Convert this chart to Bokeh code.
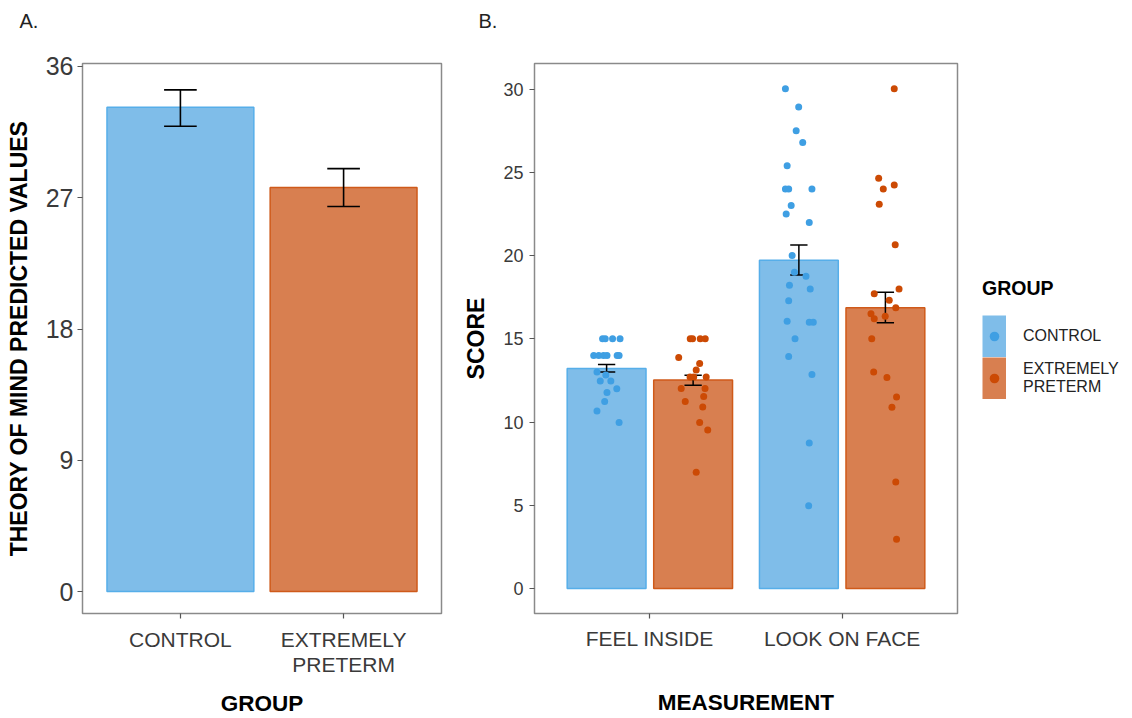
from bokeh.plotting import figure
from bokeh.layouts import row, column
from bokeh.models import FixedTicker, Legend, LegendItem, Range1d, ColumnDataSource
from bokeh.core.properties import value
from bokeh.embed import file_html
from bokeh.resources import INLINE

FONT = "Liberation Sans"

# ---------------- data: panel A ----------------
groups = ["CONTROL", "EXTREMELY PRETERM"]
group_tick_labels = ["CONTROL", "EXTREMELY\nPRETERM"]
tom_mean = [33.2, 27.7]
tom_lower = [31.9, 26.4]
tom_upper = [34.4, 29.0]
tom_ticks = [0, 9, 18, 27, 36]

# ---------------- data: panel B ----------------
measurements = ["FEEL INSIDE", "LOOK ON FACE"]
score_mean_control = [13.22, 19.71]
score_mean_preterm = [12.53, 16.86]
score_lower_control = [13.0, 18.83]
score_upper_control = [13.46, 20.63]
score_lower_preterm = [12.21, 15.96]
score_upper_preterm = [12.81, 17.79]
score_ticks = [0, 5, 10, 15, 20, 25, 30]

# individual scores (with the horizontal jitter)
feel_control = [15.0, 15.0, 15.0, 15.0, 14.0, 14.0, 14.0, 14.0, 14.0, 14.0,
                 13.0, 12.83, 12.47, 12.47, 12.0, 11.77, 11.23, 10.67, 9.97]
feel_control_jitter = [-0.021, -0.007, 0.031, 0.07, -0.067, -0.041, -0.016, 0.002, 0.055, 0.065,
                       -0.05, -0.004, -0.033, 0.022, 0.053, 0.002, -0.01, -0.05, 0.065]
feel_preterm = [15.0, 15.0, 15.0, 15.0, 13.87, 13.51, 13.13, 12.71, 12.71, 12.71,
                12.01, 12.01, 11.53, 11.23, 10.91, 9.97, 9.52, 6.98]
feel_preterm_jitter = [-0.015, -0.003, 0.037, 0.063, -0.075, 0.034, 0.016, -0.016, 0.003, 0.068,
                       -0.062, 0.062, 0.055, -0.041, 0.05, 0.034, 0.076, 0.016]
face_control = [30.02, 28.92, 27.49, 26.79, 25.39, 24.0, 24.0, 24.0, 23.0, 22.5,
                21.98, 20.0, 18.99, 18.75, 18.21, 17.99, 17.29, 16.06, 16.0, 16.0,
                15.0, 13.93, 12.85, 8.74, 4.97]
face_control_jitter = [-0.07, -0.001, -0.014, 0.02, -0.061, -0.07, -0.053, 0.068, -0.04, -0.066,
                       0.054, -0.035, -0.023, 0.037, -0.049, 0.059, -0.053, -0.061, 0.054, 0.075,
                       -0.02, -0.053, 0.068, 0.054, 0.051]
face_preterm = [30.02, 24.64, 24.24, 24.0, 23.08, 20.65, 17.99, 17.71, 17.31, 16.86,
                16.5, 16.2, 16.36, 15.0, 13.0, 12.67, 11.51, 10.89, 6.4, 2.97]
face_preterm_jitter = [0.046, -0.035, 0.046, -0.011, -0.032, 0.051, 0.071, -0.058, 0.02, 0.054,
                       -0.075, -0.058, -0.001, -0.071, -0.061, 0.008, 0.058, 0.034, 0.054, 0.058]

panel_tags = ["A.", "B."]

# ---------------- styles ----------------
BLUE_FILL, BLUE_LINE, BLUE_PT = "#7fbde9", "#56aee9", "#3f9fe3"
ORANGE_FILL, ORANGE_LINE, ORANGE_PT = "#d87f50", "#cf5a1a", "#cc4a04"
TICK_TXT = "#3a3a3a"
FRAME = "#8a8a8a"
HDR = 40
H = 718 - HDR
TOP, BOTTOM = 63 - HDR, 103


def style(p, xlabel, ylabel, xfs, yfs):
    p.xgrid.visible = False
    p.ygrid.visible = False
    p.outline_line_color = FRAME
    p.outline_line_width = 1.5
    p.background_fill_color = "white"
    p.border_fill_color = "white"
    for ax in (p.xaxis[0], p.yaxis[0]):
        ax.axis_line_color = None
        ax.major_tick_line_color = "#555555"
        ax.major_tick_line_width = 1.2
        ax.major_tick_in = 0
        ax.major_tick_out = 5
        ax.minor_tick_line_color = None
        ax.major_label_text_font = FONT
        ax.major_label_text_color = TICK_TXT
        ax.axis_label_text_font = FONT
        ax.axis_label_text_font_style = "bold"
        ax.axis_label_text_font_size = "22.5px"
        ax.axis_label_text_line_height = 0.8
        ax.axis_label_text_color = "black"
    p.yaxis.axis_label_text_font_size = "23px"
    p.xaxis.axis_label = xlabel
    p.yaxis.axis_label = ylabel
    p.xaxis.major_label_text_font_size = xfs
    p.yaxis.major_label_text_font_size = yfs


# ---------------- header strip with the panel tags ----------------
hdr = figure(width=1132, height=HDR, x_range=Range1d(0, 1132), y_range=Range1d(0, HDR),
             x_axis_type=None, y_axis_type=None, output_backend="svg", toolbar_location=None,
             min_border=0)
hdr.outline_line_color = None
hdr.grid.visible = False
hdr.text(x=[19, 478], y=[HDR - 20.5, HDR - 20.5], text=panel_tags, text_font=value(FONT),
         text_font_size="20px", text_align="left", text_baseline="middle",
         text_color="#222222")

# ---------------- panel A ----------------
pa = figure(width=460, height=H, x_range=Range1d(0.4, 2.6), y_range=Range1d(-1.503, 36.205),
            output_backend="svg", toolbar_location=None,
            min_border_left=82, min_border_right=19, min_border_top=TOP, min_border_bottom=BOTTOM)
xa = [i + 1 for i in range(len(groups))]
src_a = ColumnDataSource(dict(x=xa, top=tom_mean, lo=tom_lower, hi=tom_upper,
                              fill=[BLUE_FILL, ORANGE_FILL], line=[BLUE_LINE, ORANGE_LINE]))
pa.vbar(x="x", top="top", bottom=0, width=0.9, fill_color="fill", line_color="line",
        line_width=1.5, source=src_a)
pa.segment(x0="x", y0="lo", x1="x", y1="hi", line_color="black", line_width=1.6, source=src_a)
pa.segment(x0=[x - 0.1 for x in xa], y0=tom_upper, x1=[x + 0.1 for x in xa], y1=tom_upper,
           line_color="black", line_width=1.6)
pa.segment(x0=[x - 0.1 for x in xa], y0=tom_lower, x1=[x + 0.1 for x in xa], y1=tom_lower,
           line_color="black", line_width=1.6)
style(pa, "GROUP", "THEORY OF MIND PREDICTED VALUES", "21px", "25px")
pa.xaxis.ticker = FixedTicker(ticks=xa)
pa.xaxis.major_label_overrides = {x: lab for x, lab in zip(xa, group_tick_labels)}
pa.xaxis.major_label_text_line_height = 1.1
pa.yaxis.ticker = FixedTicker(ticks=tom_ticks)
pa.xaxis.major_label_standoff = 9
pa.xaxis.axis_label_standoff = 12
pa.yaxis.major_label_standoff = 4
pa.yaxis.axis_label_standoff = 11

# ---------------- panel B ----------------
pb = figure(width=502, height=H, x_range=Range1d(0.4, 2.6), y_range=Range1d(-1.496, 31.532),
            output_backend="svg", toolbar_location=None,
            min_border_left=73, min_border_right=5, min_border_top=TOP, min_border_bottom=BOTTOM)
xm = [i + 1 for i in range(len(measurements))]
DODGE = 0.225
xc = [x - DODGE for x in xm]
xe = [x + DODGE for x in xm]
W = 0.41
pb.vbar(x=xc, top=score_mean_control, bottom=0, width=W, fill_color=BLUE_FILL,
        line_color=BLUE_LINE, line_width=1.5)
pb.vbar(x=xe, top=score_mean_preterm, bottom=0, width=W, fill_color=ORANGE_FILL,
        line_color=ORANGE_LINE, line_width=1.5)
for xs, lo, hi in ((xc, score_lower_control, score_upper_control),
                   (xe, score_lower_preterm, score_upper_preterm)):
    pb.segment(x0=xs, y0=lo, x1=xs, y1=hi, line_color="black", line_width=1.5)
    pb.segment(x0=[x - 0.045 for x in xs], y0=hi, x1=[x + 0.045 for x in xs], y1=hi,
               line_color="black", line_width=1.5)
    pb.segment(x0=[x - 0.045 for x in xs], y0=lo, x1=[x + 0.045 for x in xs], y1=lo,
               line_color="black", line_width=1.5)

pc_x = [xc[0] + j for j in feel_control_jitter] + [xc[1] + j for j in face_control_jitter]
pc_y = feel_control + face_control
pe_x = [xe[0] + j for j in feel_preterm_jitter] + [xe[1] + j for j in face_preterm_jitter]
pe_y = feel_preterm + face_preterm
pb.scatter(pc_x, pc_y, size=7, fill_color=BLUE_PT, line_color=None)
pb.scatter(pe_x, pe_y, size=7, fill_color=ORANGE_PT, line_color=None)

style(pb, "MEASUREMENT", "SCORE", "21px", "18px")
pb.xaxis.ticker = FixedTicker(ticks=xm)
pb.xaxis.major_label_overrides = {x: lab for x, lab in zip(xm, measurements)}
pb.yaxis.ticker = FixedTicker(ticks=score_ticks)
pb.xaxis.major_label_standoff = 8
pb.xaxis.axis_label_standoff = 37
pb.yaxis.major_label_standoff = 6
pb.yaxis.axis_label_standoff = 11

# ---------------- legend (own narrow canvas to the right of panel B) ----------------
# swatch renderers only; their single dummy mark lies outside this canvas' range
pl = figure(width=170, height=H, x_axis_type=None, y_axis_type=None,
            x_range=Range1d(0, 1), y_range=Range1d(0, 1),
            output_backend="svg", toolbar_location=None,
            min_border_left=10, min_border_right=0, min_border_top=TOP,
            min_border_bottom=BOTTOM)
pl.outline_line_color = None
pl.grid.visible = False
key_c = pl.line(x=[-5, -4], y=[-5, -5], line_color=BLUE_FILL, line_width=42, line_cap="butt")
key_pt_c = pl.scatter(x=[-5], y=[-5], size=7, fill_color=BLUE_PT, line_color=None)
key_e = pl.line(x=[-5, -4], y=[-5, -5], line_color=ORANGE_FILL, line_width=42, line_cap="butt")
key_pt_e = pl.scatter(x=[-5], y=[-5], size=7, fill_color=ORANGE_PT, line_color=None)
legend = Legend(items=[LegendItem(label=groups[0], renderers=[key_c, key_pt_c]),
                       LegendItem(label="EXTREMELY\nPRETERM", renderers=[key_e, key_pt_e])],
                location="left", title="GROUP", orientation="vertical")
legend.border_line_color = None
legend.background_fill_alpha = 0
legend.padding = 10
legend.margin = 10
legend.spacing = 0
legend.glyph_width = 24
legend.glyph_height = 42
legend.label_standoff = 17
legend.label_text_font = FONT
legend.label_text_font_size = "16px"
legend.label_text_line_height = 1.35
legend.label_text_color = "#222222"
legend.title_text_font = FONT
legend.title_text_font_style = "bold"
legend.title_text_font_size = "19.5px"
legend.title_text_color = "black"
legend.title_standoff = 15
pl.add_layout(legend)

layout = column(hdr, row(pa, pb, pl))
open("out.html", "w").write(file_html(layout, INLINE))
